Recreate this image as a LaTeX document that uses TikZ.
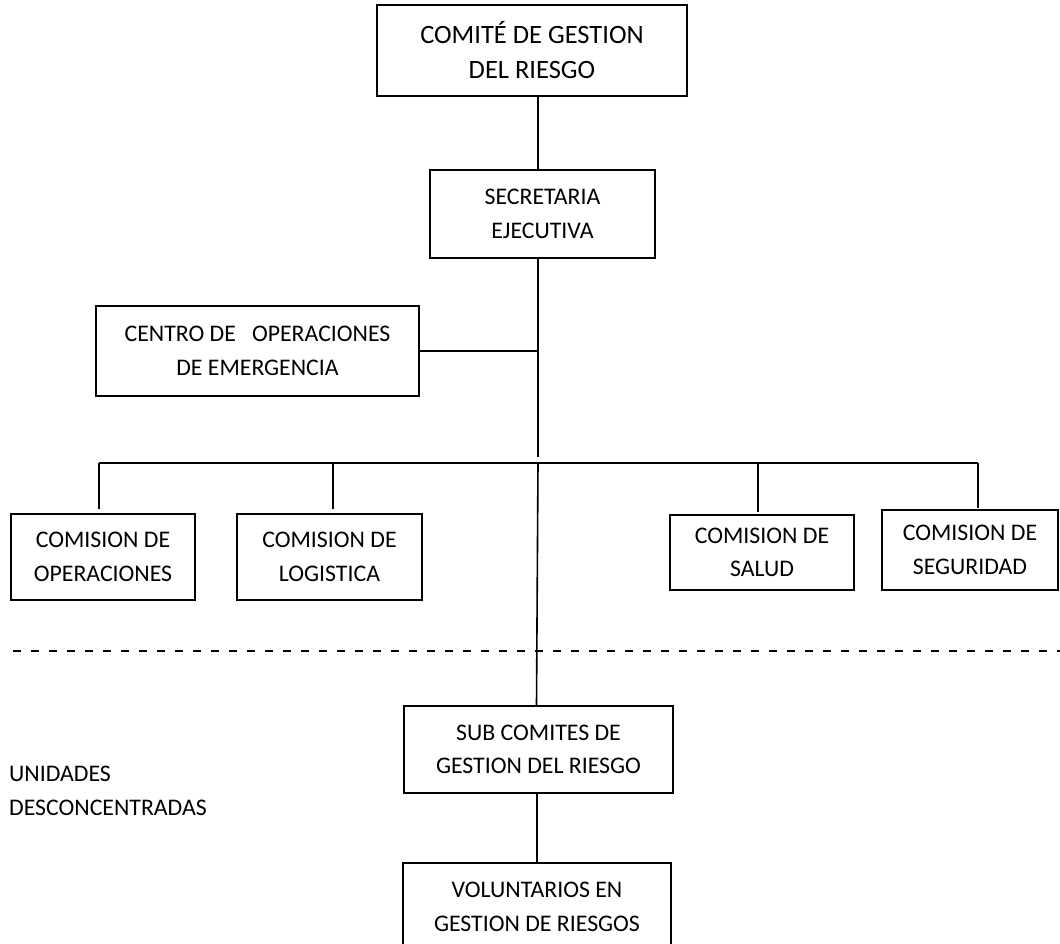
\documentclass[tikz,border=0pt]{standalone}
\usepackage{fontspec}
\setmainfont{Carlito}
\usetikzlibrary{positioning}
\tikzset{caja/.style={draw,line width=1.8pt,align=center,inner sep=0pt,font=\fontsize{23.8}{33.5}\selectfont},
         linea/.style={line width=1.6pt}}

\begin{document}
\begin{tikzpicture}[x=1pt,y=-1pt]
            \useasboundingbox (0,0) rectangle (1060,944);
            % cajas
            \node[caja,minimum width=310,minimum height=91,font=\fontsize{26.5}{35}\selectfont] (comite) at (532,50.5) {COMITÉ DE GESTION\\DEL RIESGO};
            \node[caja,minimum width=225,minimum height=88] (secretaria) at (542.5,214) {SECRETARIA\\EJECUTIVA};
            \node[caja,minimum width=323,minimum height=90] (centro) at (257.5,351) {CENTRO DE \ \ OPERACIONES\\DE EMERGENCIA};
            \node[caja,minimum width=184,minimum height=86] (operaciones) at (103,557) {COMISION DE\\OPERACIONES};
            \node[caja,minimum width=185,minimum height=86] (logistica) at (329.5,557) {COMISION DE\\LOGISTICA};
            \node[caja,minimum width=184,minimum height=75] (salud) at (762,552.5) {COMISION DE\\SALUD};
            \node[caja,minimum width=176,minimum height=80] (seguridad) at (970,550) {COMISION DE\\SEGURIDAD};
            \node[caja,minimum width=269,minimum height=87] (subcomites) at (538.5,749.5) {SUB COMITES DE\\GESTION DEL RIESGO};
            \node[caja,minimum width=268,minimum height=88] (voluntarios) at (537,907) {VOLUNTARIOS EN\\GESTION DE RIESGOS};
            \node[anchor=west,align=left,inner sep=0pt,font=\fontsize{23.8}{33.5}\selectfont] (unidades) at (9,791) {UNIDADES\\DESCONCENTRADAS};
            % eje y barra
            \coordinate (eje) at (538,463);
            \coordinate (finEje) at (538,457);
            \coordinate (bOper) at (99,463);
            \coordinate (bLogi) at (333,463);
            \coordinate (bSalud) at (758,463);
            \coordinate (bSegu) at (978,463);
            \draw[linea] (comite.south -| eje) -- (secretaria.north -| eje);
            \draw[linea] (secretaria.south -| eje) -- (finEje);
            \draw[linea] (centro.east) -- (centro.east -| eje);
            \draw[linea] (bOper) -- (bSegu);
            \draw[linea,shorten >=4pt] (bOper) -- (bOper |- operaciones.north);
            \draw[linea,shorten >=4pt] (bLogi) -- (bLogi |- logistica.north);
            \draw[linea,shorten >=2pt] (bSalud) -- (bSalud |- salud.north);
            \draw[linea,shorten >=1pt] (bSegu) -- (bSegu |- seguridad.north);
            \draw[linea] (eje) -- ([xshift=-2pt]subcomites.north);
            \draw[linea] (subcomites.south -| voluntarios.north) -- (voluntarios.north);
            % limite
            \draw[line width=2pt,dash pattern=on 8pt off 10pt] (13,651) -- (1060,651);
        \end{tikzpicture}
\end{document}
